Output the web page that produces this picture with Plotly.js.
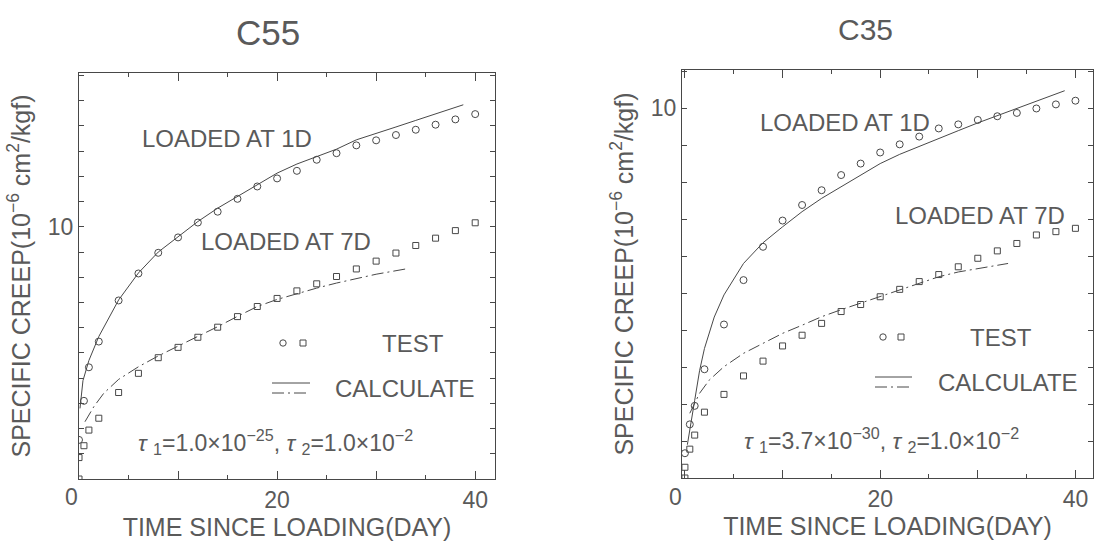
<!DOCTYPE html>
<html>
<head>
<meta charset="utf-8">
<script src="https://cdn.plot.ly/plotly-3.0.1.min.js"></script>
<style>html,body{margin:0;padding:0;background:#fff;}#chart{width:1097px;height:542px;}</style>
</head>
<body>
<div id="chart"></div>
<script>
// ---------- DATA ----------
const chartTitles = ["C55", "C35"];
const xTitle = "TIME SINCE LOADING(DAY)";
const yTitle = "SPECIFIC CREEP(10<sup>−6</sup> cm<sup>2</sup>/kgf)";
const label1D = "LOADED AT 1D";
const label7D = "LOADED AT 7D";
const legendTest = "TEST";
const legendCalc = "CALCULATE";
const tauC55 = "<i>τ</i> <sub>1</sub>=1.0×10<sup>−25</sup>, <i>τ</i> <sub>2</sub>=1.0×10<sup>−2</sup>";
const tauC35 = "<i>τ</i> <sub>1</sub>=3.7×10<sup>−30</sup>, <i>τ</i> <sub>2</sub>=1.0×10<sup>−2</sup>";

const xTickVals = [0, 10, 20, 30, 40];
const xTickText = ["", "", "20", "", "40"];
const xMinorVals = [5, 15, 25, 35];

// C55
const c55_1d_test_x = [0, 0.5, 1, 2, 4, 6, 8, 10, 12, 14, 16, 18, 20, 22, 24, 26, 28, 30, 32, 34, 36, 38, 40];
const c55_1d_test_y = [1.55, 3.1, 4.43, 5.45, 7.08, 8.15, 8.97, 9.58, 10.17, 10.6, 11.11, 11.6, 11.92, 12.22, 12.66, 12.92, 13.23, 13.43, 13.64, 13.85, 14.05, 14.26, 14.47];
const c55_7d_test_x = [0, 0, 0.5, 1, 2, 4, 6, 8, 10, 12, 14, 16, 18, 20, 22, 24, 26, 28, 30, 32, 34, 36, 38, 40];
const c55_7d_test_y = [0, 0.85, 1.32, 1.94, 2.41, 3.43, 4.19, 4.81, 5.22, 5.62, 6.02, 6.44, 6.84, 7.16, 7.46, 7.74, 8.03, 8.33, 8.64, 8.96, 9.26, 9.55, 9.85, 10.16];
const c55_1d_calc_x = [0.1, 0.4, 1, 2, 4, 6, 8, 10, 12, 14, 16, 18, 20, 22, 24, 26, 28, 30, 32, 34, 36, 38.8];
const c55_1d_calc_y = [2.8, 3.9, 4.7, 5.65, 7.1, 8.17, 9.0, 9.62, 10.21, 10.74, 11.2, 11.67, 12.13, 12.49, 12.79, 13.08, 13.45, 13.69, 13.96, 14.22, 14.47, 14.84];
const c55_7d_calc_x = [0.6, 1.5, 2.5, 4, 6, 8, 10, 12, 14, 16, 18, 20, 22, 24, 26, 28, 30, 33];
const c55_7d_calc_y = [2.27, 2.87, 3.4, 3.95, 4.45, 4.88, 5.27, 5.65, 6.04, 6.45, 6.84, 7.12, 7.35, 7.57, 7.77, 7.95, 8.12, 8.33];
const c55_yTickVals = [0, 1, 2, 3, 4, 5, 6, 7, 8, 9, 10, 11, 12, 13, 14, 15, 16];
const c55_yTickText = ["", "", "", "", "", "", "", "", "", "", "10", "", "", "", "", "", ""];

// C35
const c35_1d_test_x = [0, 0.5, 1, 2, 4, 6, 8, 10, 12, 14, 16, 18, 20, 22, 24, 26, 28, 30, 32, 34, 36, 38, 40];
const c35_1d_test_y = [0.67, 1.45, 1.95, 2.94, 4.15, 5.35, 6.25, 6.96, 7.38, 7.78, 8.19, 8.5, 8.8, 9.02, 9.23, 9.45, 9.56, 9.68, 9.78, 9.87, 9.99, 10.1, 10.2];
const c35_7d_test_x = [0, 0, 0.5, 1, 2, 4, 6, 8, 10, 12, 14, 16, 18, 20, 22, 24, 26, 28, 30, 32, 34, 36, 38, 40];
const c35_7d_test_y = [0, 0.29, 0.78, 1.16, 1.78, 2.26, 2.76, 3.16, 3.57, 3.86, 4.18, 4.5, 4.69, 4.9, 5.1, 5.31, 5.5, 5.71, 5.94, 6.14, 6.34, 6.57, 6.66, 6.75];
const c35_1d_calc_x = [0.25, 0.6, 1, 1.5, 2, 3, 4, 6, 8, 10, 12, 14, 16, 18, 20, 22, 24, 26, 28, 30, 32, 34, 36, 38.9];
const c35_1d_calc_y = [0.9, 1.5, 2.1, 2.9, 3.5, 4.35, 4.95, 5.8, 6.36, 6.79, 7.2, 7.56, 7.87, 8.2, 8.5, 8.75, 8.97, 9.18, 9.39, 9.6, 9.8, 9.99, 10.18, 10.47];
const c35_7d_calc_x = [0.5, 1.5, 2.5, 4, 6, 8, 10, 12, 14, 16, 18, 20, 22, 24, 26, 28, 30, 33.1];
const c35_7d_calc_y = [1.75, 2.29, 2.65, 3.01, 3.37, 3.64, 3.91, 4.13, 4.36, 4.55, 4.73, 4.9, 5.08, 5.27, 5.44, 5.57, 5.66, 5.8];
const c35_yTickVals = [0, 1, 2, 3, 4, 5, 6, 7, 8, 9, 10, 11];
const c35_yTickText = ["", "", "", "", "", "", "", "", "", "", "10", ""];

// ---------- STYLE / LAYOUT ----------
const W = 1097, H = 542;
const px = x => x / W;
const py = y => 1 - y / H;
const FONT = "Liberation Sans, Arial, Helvetica, sans-serif";
const TXT = "#5a5a5a";
const INK = "#484848";
const DASHDOT = "12px,4px,2px,4px";

function markers(x, y, sym, size, xa, ya) {
  return {x, y, xaxis: xa, yaxis: ya, type: "scatter", mode: "markers", showlegend: false, hoverinfo: "skip",
    marker: {symbol: sym, size: size, color: INK, line: {color: INK, width: 1}}};
}
function line(x, y, dash, xa, ya) {
  return {x, y, xaxis: xa, yaxis: ya, type: "scatter", mode: "lines", showlegend: false, hoverinfo: "skip",
    line: {color: INK, width: 1, dash: dash}};
}

const data = [
  line(c55_1d_calc_x, c55_1d_calc_y, "solid", "x", "y"),
  line(c55_7d_calc_x, c55_7d_calc_y, DASHDOT, "x", "y"),
  markers(c55_1d_test_x, c55_1d_test_y, "circle-open", 7, "x", "y"),
  markers(c55_7d_test_x, c55_7d_test_y, "square-open", 6, "x", "y"),
  line(c35_1d_calc_x, c35_1d_calc_y, "solid", "x2", "y2"),
  line(c35_7d_calc_x, c35_7d_calc_y, DASHDOT, "x2", "y2"),
  markers(c35_1d_test_x, c35_1d_test_y, "circle-open", 7, "x2", "y2"),
  markers(c35_7d_test_x, c35_7d_test_y, "square-open", 6, "x2", "y2")
];

function xAxis(domain, range, anchor) {
  return {domain, range, anchor, showline: true, linecolor: INK, linewidth: 1, mirror: "ticks",
    ticks: "inside", ticklen: 8, tickwidth: 1, tickcolor: INK, tickmode: "array",
    tickvals: xTickVals, ticktext: xTickText, showgrid: false, zeroline: false,
    minor: {tickmode: "array", tickvals: xMinorVals, ticks: "inside", ticklen: 4, tickcolor: INK, showgrid: false},
    tickfont: {family: FONT, size: 23, color: TXT},
    title: {text: xTitle, font: {family: FONT, size: 25, color: TXT}, standoff: 2}};
}
function yAxis(domain, range, anchor, tv, tt) {
  return {domain, range, anchor, showline: true, linecolor: INK, linewidth: 1, mirror: "ticks",
    ticks: "inside", ticklen: 5, tickwidth: 1, tickcolor: INK, tickmode: "array",
    tickvals: tv, ticktext: tt, showgrid: false, zeroline: false,
    tickfont: {family: FONT, size: 23, color: TXT},
    title: {text: yTitle, font: {family: FONT, size: 25, color: TXT}, standoff: 10}};
}

function ann(text, x, y, size, xanchor) {
  return {text, x: px(x), y: py(y), xref: "paper", yref: "paper", showarrow: false,
    xanchor: xanchor || "left", yanchor: "middle", font: {family: FONT, size: size, color: TXT}};
}

const annotations = [
  ann(chartTitles[0], 268, 33, 35, "center"),
  ann(chartTitles[1], 865, 29, 30, "center"),
  // C55
  ann(label1D, 140, 138, 24),
  ann(label7D, 199, 242, 24),
  ann(legendTest, 380, 343, 24),
  ann(legendCalc, 333, 388, 24),
  ann(tauC55, 136, 442, 23),
  ann("0", 80, 482, 23, "right"),
  // C35
  ann(label1D, 758, 122, 24),
  ann(label7D, 893, 215, 24),
  ann(legendTest, 968, 337, 24),
  ann(legendCalc, 936, 382, 24),
  ann(tauC35, 742, 440, 23),
  ann("0", 684, 482, 23, "right")
];
annotations.forEach(a => { if (a.text === "0") { a.yanchor = "top"; } });

function circ(cx, cy, r) {
  return {type: "circle", xref: "paper", yref: "paper", x0: px(cx - r), x1: px(cx + r), y0: py(cy + r), y1: py(cy - r),
    line: {color: INK, width: 1}};
}
function sq(cx, cy, r) {
  return {type: "rect", xref: "paper", yref: "paper", x0: px(cx - r), x1: px(cx + r), y0: py(cy + r), y1: py(cy - r),
    line: {color: INK, width: 1}};
}
function seg(x0, x1, y, dash) {
  return {type: "line", xref: "paper", yref: "paper", x0: px(x0), x1: px(x1), y0: py(y), y1: py(y),
    line: {color: INK, width: 1, dash: dash}};
}
const shapes = [
  circ(283, 343, 3.2), sq(303, 343, 3),
  seg(272, 310, 383, "solid"), seg(272, 310, 393, DASHDOT),
  circ(883, 337, 3.2), sq(901, 337, 3),
  seg(875, 912, 377, "solid"), seg(875, 912, 387, DASHDOT)
];

const layout = {
  width: W, height: H, margin: {l: 0, r: 0, t: 0, b: 0},
  paper_bgcolor: "#fff", plot_bgcolor: "#fff", showlegend: false,
  font: {family: FONT, color: TXT},
  xaxis: xAxis([px(79), px(495)], [0, 42.0], "y"),
  yaxis: yAxis([1 - 479 / H, 1 - 73 / H], [0, 16.1], "x", c55_yTickVals, c55_yTickText),
  xaxis2: xAxis([px(682), px(1093)], [-0.3, 41.8], "y2"),
  yaxis2: yAxis([1 - 478 / H, 1 - 70 / H], [0, 11.03], "x2", c35_yTickVals, c35_yTickText),
  annotations, shapes
};

Plotly.newPlot("chart", data, layout, {staticPlot: true, displayModeBar: false});
</script>
</body>
</html>
